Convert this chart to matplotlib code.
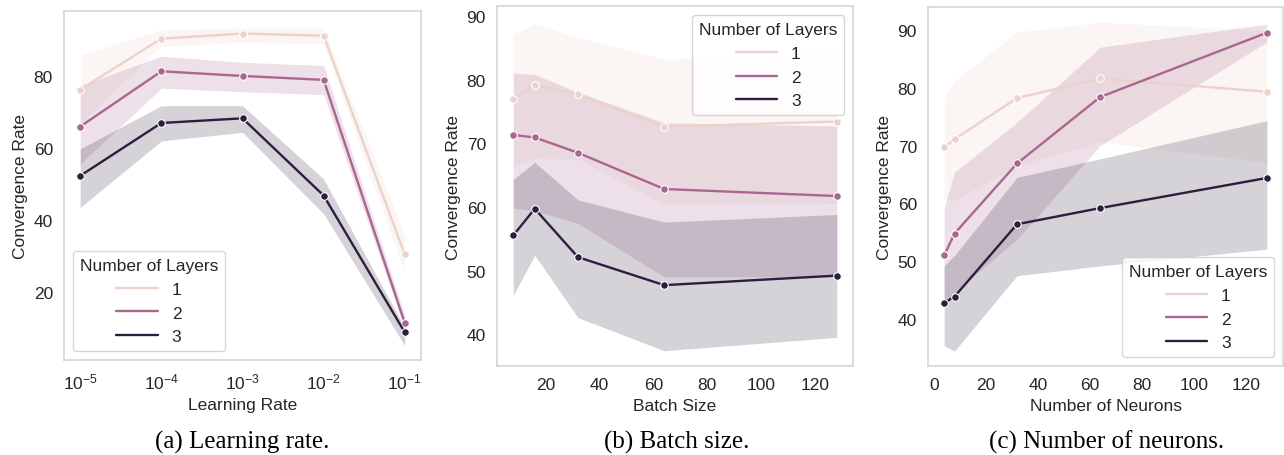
import matplotlib
matplotlib.use("Agg")
import matplotlib.pyplot as plt
from matplotlib.lines import Line2D
import seaborn as sns

# layers shown in every panel
layers = [1, 2, 3]

# (a) learning rate
lr = [1e-5, 1e-4, 1e-3, 1e-2, 1e-1]
lr_mean = [[76.3, 90.5, 91.9, 91.3, 30.4],
           [66.0, 81.4, 80.1, 79.0, 11.3],
           [52.3, 67.0, 68.3, 46.8, 8.7]]
lr_lo = [[67.0, 88.3, 89.5, 89.0, 25.4],
         [55.6, 76.7, 75.7, 74.9, 9.6],
         [43.5, 62.0, 64.4, 41.7, 5.0]]
lr_hi = [[85.8, 93.0, 93.4, 93.4, 35.6],
         [77.4, 85.6, 83.9, 83.0, 13.3],
         [59.8, 71.8, 71.8, 51.4, 10.0]]

# (b) batch size
bs = [8, 16, 32, 64, 128]
bs_mean = [[77.0, 79.1, 77.7, 72.6, 73.4],
           [71.3, 70.9, 68.5, 62.8, 61.7],
           [55.5, 59.7, 52.1, 47.7, 49.2]]
bs_lo = [[66.4, 67.6, 67.5, 60.4, 60.5],
         [59.8, 59.4, 57.4, 49.0, 49.0],
         [46.1, 52.4, 42.6, 37.4, 39.5]]
bs_hi = [[87.1, 88.8, 86.6, 83.2, 84.0],
         [81.0, 80.8, 78.0, 73.2, 72.7],
         [64.3, 67.0, 61.1, 57.6, 58.8]]

# (c) number of neurons
nn = [4, 8, 32, 64, 128]
nn_mean = [[69.7, 71.1, 78.2, 81.6, 79.3],
           [51.0, 54.8, 66.9, 78.4, 89.5],
           [42.8, 43.9, 56.4, 59.2, 64.4]]
nn_lo = [[60.8, 60.5, 66.5, 70.6, 67.1],
         [42.0, 44.6, 53.8, 70.0, 87.9],
         [35.4, 34.5, 47.5, 49.2, 52.1]]
nn_hi = [[78.3, 81.2, 89.6, 91.3, 89.9],
         [59.3, 65.4, 74.0, 87.0, 91.0],
         [49.2, 51.0, 64.5, 67.7, 74.3]]

sns.set_style("whitegrid", {"axes.grid": False})
plt.rcParams["font.family"] = ["Liberation Sans", "DejaVu Sans"]
plt.rcParams["mathtext.default"] = "regular"

cmap = sns.cubehelix_palette(as_cmap=True)
colors = [cmap(v) for v in (0.0, 0.5, 1.0)]

fig = plt.figure(figsize=(12.84, 4.56), dpi=100)
W, H = 1284, 456


def add_ax(l, r, t, b):
    return fig.add_axes([l / W, 1 - b / H, (r - l) / W, (b - t) / H])


axes = [add_ax(64, 421, 12.3, 361), add_ax(497, 853, 7.3, 367), add_ax(928, 1283, 7.7, 367)]

panels = [
    (lr, lr_mean, lr_lo, lr_hi, "Learning Rate", "lower left", (1.0, 98.1), (10 ** -5.2, 10 ** -0.8)),
    (bs, bs_mean, bs_lo, bs_hi, "Batch Size", "upper right", (35.0, 91.5), (2, 134)),
    (nn, nn_mean, nn_lo, nn_hi, "Number of Neurons", "lower right", (31.9, 94.0), (-2.2, 134.2)),
]

for ax, (x, mean, lo, hi, xlabel, loc, ylim, xlim) in zip(axes, panels):
    for i, lay in enumerate(layers):
        ax.fill_between(x, lo[i], hi[i], color=colors[i], alpha=0.2, linewidth=0)
        ax.plot(x, mean[i], color=colors[i], lw=1.7, marker="o", ms=5.5,
                mec="white", mew=0.8, label=str(lay))
    if ax is axes[0]:
        ax.set_xscale("log")
    ax.set_xlim(*xlim)
    ax.set_ylim(*ylim)
    ax.set_xlabel(xlabel, fontsize=12.5, labelpad=4)
    ax.set_ylabel("Convergence Rate", fontsize=12.5)
    ax.tick_params(labelsize=12.5, length=0, pad=8)
    for s in ax.spines.values():
        s.set_color("#d5d5d5")
        s.set_linewidth(1.2)
    labels = [str(lay) for lay in layers]
    handles = [Line2D([], [], color=c, lw=1.7) for c in colors]
    ax.legend(handles, labels, title="Number of Layers", loc=loc,
              fontsize=12.5, title_fontsize=12.5, handlelength=2.4)

axes[1].set_xticks([20, 40, 60, 80, 100, 120])
axes[2].set_xticks([0, 20, 40, 60, 80, 100, 120])
axes[1].set_yticks([40, 50, 60, 70, 80, 90])
axes[2].set_yticks([40, 50, 60, 70, 80, 90])
axes[0].set_yticks([20, 40, 60, 80])

captions = ["(a) Learning rate.", "(b) Batch size.", "(c) Number of neurons."]
centers = [242, 677, 1107]
for cap, cx in zip(captions, centers):
    fig.text(cx / W, 7 / H, cap, ha="center", va="baseline",
             family="Liberation Serif", fontsize=18, color="black")

fig.savefig("out.png", dpi=100)
